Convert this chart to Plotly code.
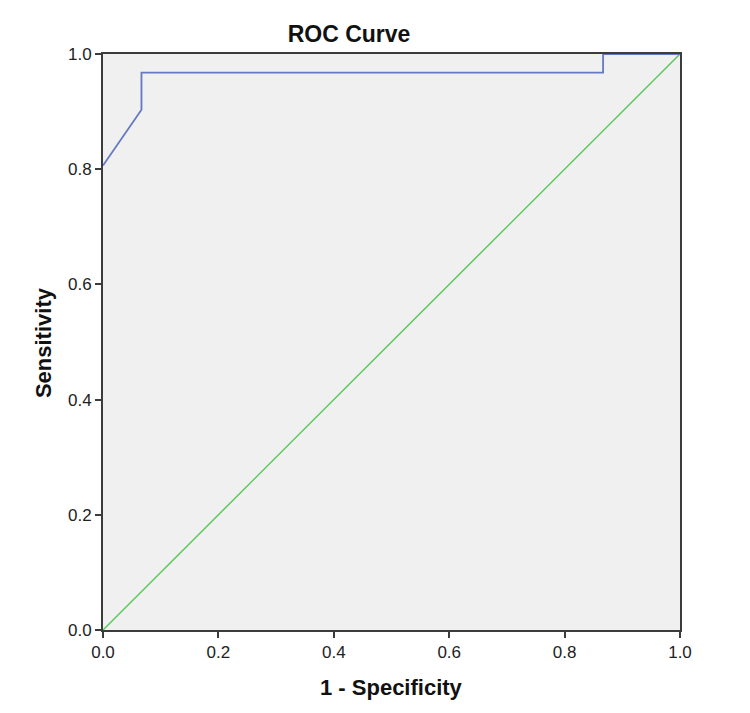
import plotly.graph_objects as go

fpr = [0.0, 1/15, 1/15, 13/15, 13/15, 1.0]
tpr = [25/31, 28/31, 30/31, 30/31, 1.0, 1.0]
ref_x = [0.0, 1.0]
ref_y = [0.0, 1.0]
tick_vals = [0.0, 0.2, 0.4, 0.6, 0.8, 1.0]
tick_text = ["0.0", "0.2", "0.4", "0.6", "0.8", "1.0"]

L, R, T, B = 102.5, 680.5, 53.5, 630.5
W, H = 750, 713
pw, ph = R - L, B - T
FONT = "Liberation Sans, Arial"

fig = go.Figure()
fig.add_trace(go.Scatter(x=ref_x, y=ref_y, mode="lines",
                         line=dict(color="#5cc85f", width=1.5), showlegend=False))
fig.add_trace(go.Scatter(x=fpr, y=tpr, mode="lines",
                         line=dict(color="#6479c2", width=1.8), showlegend=False))

axis_common = dict(range=[0, 1], tickvals=tick_vals, ticktext=tick_text,
                   showgrid=False, zeroline=False, showline=True, mirror=True,
                   linecolor="#3c3c3c", linewidth=2, ticks="outside", ticklen=6,
                   tickwidth=2, tickcolor="#3c3c3c",
                   tickfont=dict(family=FONT, size=17, color="#222"))

fig.update_layout(
    width=W, height=H,
    margin=dict(l=L, r=W - R, t=T, b=H - B),
    paper_bgcolor="white", plot_bgcolor="#f0f0f0",
    title=dict(text="<b>ROC Curve</b>", x=349 / W, xref="container", xanchor="center",
               y=1 - 34 / H, yref="container", yanchor="middle",
               font=dict(family=FONT, size=23, color="#111")),
    xaxis=axis_common,
    yaxis=axis_common,
)

fig.add_annotation(text="<b>1 - Specificity</b>", xref="paper", yref="paper",
                   x=(392 - L) / pw, y=-(688 - B) / ph, xanchor="center", yanchor="middle",
                   showarrow=False, font=dict(family=FONT, size=22, color="#111"))
fig.add_annotation(text="<b>Sensitivity</b>", xref="paper", yref="paper",
                   x=-(L - 43) / pw, y=1 - (342.5 - T) / ph, xanchor="center", yanchor="middle",
                   textangle=-90, showarrow=False,
                   font=dict(family=FONT, size=22, color="#111"))

fig.write_html("out.html")
